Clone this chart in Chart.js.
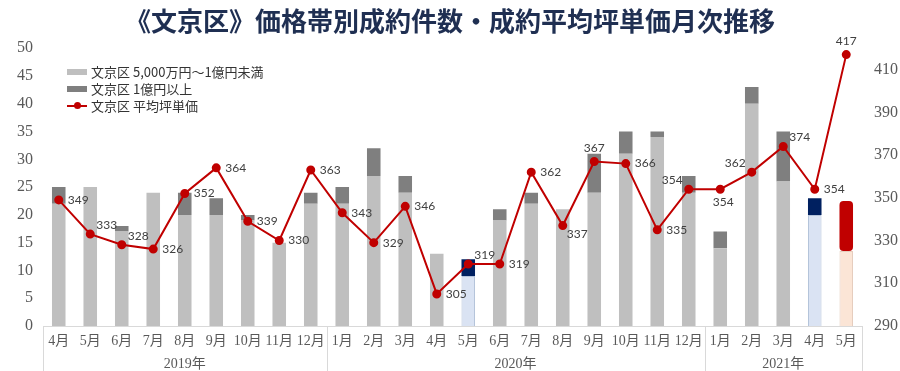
<!DOCTYPE html>
<html>
<head>
<meta charset="utf-8">
<script src="https://cdn.jsdelivr.net/npm/chart.js@4/dist/chart.umd.min.js"></script>
<style>
  html, body { margin: 0; padding: 0; background: #fff; }
  #wrap { position: relative; width: 900px; height: 371px; }
  #legend {
    position: absolute; left: 67px; top: 63px;
    font-family: "Noto Sans CJK JP", sans-serif; font-size: 13px; color: #333;
    line-height: 17px;
  }
  .item { display: flex; align-items: center; height: 17px; }
  .sw { width: 20px; height: 6px; margin-right: 4px; }
  .ln { width: 20px; height: 2px; background: #c00000; margin-right: 4px; position: relative; }
  .ln::after { content: ""; position: absolute; left: 7px; top: -3px; width: 7px; height: 7px; border-radius: 50%; background: #c00000; }
</style>
</head>
<body>
<div id="wrap">
  <canvas id="chart" width="900" height="371"></canvas>
  <div id="legend">
    <div class="item"><span class="sw" style="background:#bfbfbf"></span>文京区 5,000万円～1億円未満</div>
    <div class="item"><span class="sw" style="background:#7f7f7f"></span>文京区 1億円以上</div>
    <div class="item"><span class="ln"></span>文京区 平均坪単価</div>
  </div>
</div>
<script>
// months and the year each one belongs to
const months = ['4月','5月','6月','7月','8月','9月','10月','11月','12月',
  '1月','2月','3月','4月','5月','6月','7月','8月','9月','10月','11月','12月',
  '1月','2月','3月','4月','5月'];
const yearOf = ['2019年','2019年','2019年','2019年','2019年','2019年','2019年','2019年','2019年',
  '2020年','2020年','2020年','2020年','2020年','2020年','2020年','2020年','2020年','2020年','2020年','2020年',
  '2021年','2021年','2021年','2021年','2021年'];

// 成約件数
const mid = [22,25,17,24,20,20,19,15,22, 22,27,24,13,9,19,22,21,24,31,34,24, 14,40,26,20,13.5];
const high = [3,0,1,0,4,3,1,0,2, 3,5,3,0,3,2,2,0,7,4,1,3, 3,3,9,3,9];
// 平均坪単価
const price = [349,333,328,326,352,364,339,330,363, 343,329,346,305,319,319,362,337,367,366,335,354, 354,362,374,354,417];

// axis ticks
const countTicks = [0,5,10,15,20,25,30,35,40,45,50];
const priceTicks = [290,310,330,350,370,390,410];

// where each price label sits around its point
const labelPlace = ['r','tr','tr','r','r','r','r','r','r', 'r','r','r','r','tr','r','r','br','t','r','r','tl', 'b','tl','tr','r','t'];

const blueIdx = [13, 24];
const peachIdx = 25;

function midColor(i) {
  if (i === peachIdx) return '#fbe5d6';
  if (blueIdx.includes(i)) return '#dae3f3';
  return '#bfbfbf';
}
function highColor(i) {
  if (i === peachIdx) return '#c00000';
  if (blueIdx.includes(i)) return '#002060';
  return '#7f7f7f';
}

// year groups from the month list
const groups = [];
yearOf.forEach((y, i) => {
  const g = groups[groups.length - 1];
  if (g && g.label === y) g.end = i; else groups.push({ label: y, start: i, end: i });
});

const serif = '"Liberation Serif", "Noto Sans CJK JP", serif';

const separators = {
  id: 'separators',
  afterDraw(chart) {
    const x = chart.scales.x;
    const ctx = chart.ctx;
    const top = chart.chartArea.bottom;
    ctx.save();
    ctx.strokeStyle = '#d9d9d9';
    ctx.lineWidth = 1;
    const bounds = groups.map(g => g.start - 0.5).concat([groups[groups.length - 1].end + 0.5]);
    bounds.forEach(b => {
      const px = Math.round(x.getPixelForValue(b)) + 0.5;
      ctx.beginPath();
      ctx.moveTo(px, top);
      ctx.lineTo(px, chart.height);
      ctx.stroke();
    });
    ctx.restore();
  }
};

const valueLabels = {
  id: 'valueLabels',
  afterDatasetsDraw(chart) {
    const meta = chart.getDatasetMeta(2);
    const ctx = chart.ctx;
    ctx.save();
    ctx.font = '12px Lato, sans-serif';
    ctx.fillStyle = '#404040';
    ctx.textBaseline = 'middle';
    meta.data.forEach((pt, i) => {
      let dx = 9, dy = 0, align = 'left';
      switch (labelPlace[i]) {
        case 'tr': dx = 6; dy = -9; break;
        case 'br': dx = 4; dy = 9; break;
        case 't': dx = 0; dy = -13; align = 'center'; break;
        case 'b': dx = 3; dy = 13; align = 'center'; break;
        case 'tl': dx = -6; dy = -9; align = 'right'; break;
      }
      ctx.textAlign = align;
      ctx.fillText(String(price[i]), pt.x + dx, pt.y + dy);
    });
    ctx.restore();
  }
};

new Chart(document.getElementById('chart'), {
  type: 'bar',
  data: {
    labels: months,
    datasets: [
      {
        label: '文京区 5,000万円～1億円未満',
        data: mid,
        backgroundColor: ctx => midColor(ctx.dataIndex),
        borderColor: ctx => ctx.dataIndex === peachIdx ? '#e6cdbd' : '#b4c3da',
        borderWidth: ctx => (ctx.dataIndex === peachIdx || blueIdx.includes(ctx.dataIndex)) ? 1 : 0,
        stack: 's',
        order: 1
      },
      {
        label: '文京区 1億円以上',
        data: high,
        backgroundColor: ctx => highColor(ctx.dataIndex),
        borderRadius: ctx => ctx.dataIndex === peachIdx ? 4 : 0,
        borderSkipped: false,
        stack: 's',
        order: 1
      },
      {
        type: 'line',
        label: '文京区 平均坪単価',
        data: price,
        yAxisID: 'y1',
        borderColor: '#c00000',
        backgroundColor: '#c00000',
        borderWidth: 2,
        pointRadius: 3.5,
        pointHoverRadius: 3.5,
        tension: 0,
        order: 0
      }
    ]
  },
  options: {
    responsive: false,
    animation: false,
    layout: { padding: 0 },
    datasets: { bar: { categoryPercentage: 1, barPercentage: 0.43 } },
    plugins: {
      legend: { display: false },
      tooltip: { enabled: false },
      title: {
        display: true,
        text: '《文京区》価格帯別成約件数・成約平均坪単価月次推移',
        color: '#1f2f52',
        font: { family: '"Noto Sans CJK JP", sans-serif', size: 26, weight: 'bold' },
        padding: { top: 6, bottom: 11 }
      }
    },
    scales: {
      x: {
        stacked: true,
        grid: { display: false, drawTicks: false },
        border: { display: true, color: '#d9d9d9' },
        ticks: { color: '#595959', font: { family: serif, size: 14 }, padding: 7, maxRotation: 0, autoSkip: false },
        afterFit: s => { s.height = 22; }
      },
      x2: {
        type: 'linear',
        position: 'bottom',
        offset: false,
        min: -0.5,
        max: months.length - 0.5,
        grid: { display: false, drawTicks: false },
        border: { display: false },
        afterBuildTicks: s => { s.ticks = groups.map(g => ({ value: (g.start + g.end) / 2 })); },
        ticks: {
          color: '#595959',
          font: { family: serif, size: 14 },
          padding: 8,
          maxRotation: 0,
          callback: v => {
            const g = groups.find(g => (g.start + g.end) / 2 === v);
            return g ? g.label : '';
          }
        },
        afterFit: s => { s.height = 23; }
      },
      y: {
        stacked: true,
        min: 0,
        max: 50,
        grid: { display: false, drawTicks: false },
        border: { display: false },
        afterBuildTicks: s => { s.ticks = countTicks.map(v => ({ value: v })); },
        ticks: { color: '#595959', font: { family: serif, size: 16 }, padding: 10 },
        afterFit: s => { s.width = 43; }
      },
      y1: {
        position: 'right',
        min: 290,
        max: 420,
        grid: { display: false, drawTicks: false },
        border: { display: false },
        afterBuildTicks: s => { s.ticks = priceTicks.map(v => ({ value: v })); },
        ticks: { color: '#595959', font: { family: serif, size: 16 }, padding: 12 },
        afterFit: s => { s.width = 38; }
      }
    }
  },
  plugins: [separators, valueLabels]
});
</script>
</body>
</html>
